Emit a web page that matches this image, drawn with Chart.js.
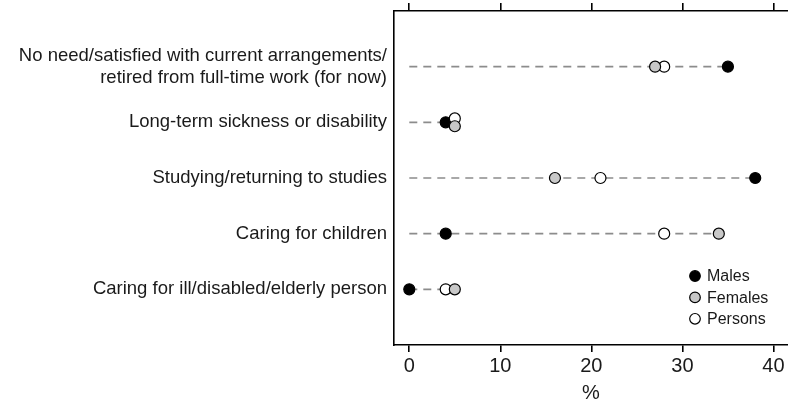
<!DOCTYPE html>
<html>
<head>
<meta charset="utf-8">
<script src="https://cdn.jsdelivr.net/npm/chart.js@4/dist/chart.umd.min.js"></script>
<style>
  html, body { margin: 0; padding: 0; background: #ffffff; }
  #wrap { width: 788px; height: 405px; }
</style>
</head>
<body>
<div id="wrap"><canvas id="c" width="788" height="405"></canvas></div>
<script>
// Reasons for not working full-time, by sex (%)
const categories = [
  ["No need/satisfied with current arrangements/", "retired from full-time work (for now)"],
  "Long-term sickness or disability",
  "Studying/returning to studies",
  "Caring for children",
  "Caring for ill/disabled/elderly person"
];
const males   = [35, 4, 38, 4, 0];
const females = [27, 5, 16, 34, 5];
const persons = [28, 5, 21, 28, 4];
const xTicks  = [0, 10, 20, 30, 40];
const seriesNames = ["Males", "Females", "Persons"];

const FONT = "'Liberation Sans', Arial, sans-serif";
const INK = '#1a1a1a';

// When females and persons coincide, nudge them apart vertically so both stay visible
function nudge(i, dir) {
  return females[i] === persons[i] ? dir * 0.07 : 0;
}

const pointStyle = {
  Males:   { bg: '#000000' },
  Females: { bg: '#c8c8c8' },
  Persons: { bg: '#ffffff' }
};

function dots(values, name, dir) {
  return {
    label: name,
    data: values.map((v, i) => ({ x: v, y: i + 1 + (dir ? nudge(i, dir) : 0) })),
    backgroundColor: pointStyle[name].bg,
    borderColor: '#000000',
    borderWidth: 1.2,
    pointRadius: 5.5,
    pointHoverRadius: 5.5,
    showLine: false
  };
}

// dashed guide from zero to the largest value in each row
const guides = categories.map((c, i) => ({
  label: 'guide' + i,
  data: [{ x: 0, y: i + 1 }, { x: Math.max(males[i], females[i], persons[i]), y: i + 1 }],
  showLine: true,
  borderColor: '#8c8c8c',
  borderWidth: 1.7,
  borderDash: [8, 6],
  pointRadius: 0,
  pointHoverRadius: 0,
  order: 10
}));

const datasets = [
  ...guides,
  Object.assign(dots(males, 'Males', 0), { order: 3 }),
  Object.assign(dots(persons, 'Persons', -1), { order: 2 }),
  Object.assign(dots(females, 'Females', 1), { order: 1 })
];

function fixTicks(scale) {
  scale.ticks = xTicks.map(v => ({ value: v }));
}

// keep the plot box edges where the axes say, without label overflow padding
function noPad(s) {
  s.paddingTop = 0; s.paddingBottom = 0; s.paddingLeft = 0; s.paddingRight = 0;
}

const legendPlugin = {
  id: 'dotLegend',
  afterDraw(chart) {
    const ctx = chart.ctx;
    const a = chart.chartArea;
    const cx = a.left + 301;
    const y0 = a.bottom - 69;
    ctx.save();
    ctx.font = '16px ' + FONT;
    ctx.textBaseline = 'middle';
    ctx.textAlign = 'left';
    seriesNames.forEach((name, k) => {
      const y = y0 + k * 21.4;
      ctx.beginPath();
      ctx.arc(cx, y, 5.3, 0, Math.PI * 2);
      ctx.fillStyle = pointStyle[name].bg;
      ctx.fill();
      ctx.lineWidth = 1.2;
      ctx.strokeStyle = '#000000';
      ctx.stroke();
      ctx.fillStyle = INK;
      ctx.fillText(name, cx + 12, y + 1);
    });
    ctx.restore();
  }
};

new Chart(document.getElementById('c'), {
  type: 'scatter',
  data: { datasets },
  options: {
    responsive: false,
    animation: false,
    devicePixelRatio: 1,
    layout: { padding: 0, autoPadding: false },
    plugins: { legend: { display: false }, tooltip: { enabled: false } },
    scales: {
      x: {
        type: 'linear',
        position: 'bottom',
        min: -1.68,
        max: 41.6,
        afterBuildTicks: fixTicks,
        afterFit(s) { s.height = 60; noPad(s); },
        grid: { drawOnChartArea: false, drawTicks: true, tickLength: 7, color: '#000000', lineWidth: 1.6 },
        border: { display: true, color: '#000000', width: 1.6 },
        ticks: { color: INK, font: { family: FONT, size: 20 }, padding: 2, maxRotation: 0 },
        title: { display: true, text: '%', color: INK, font: { family: FONT, size: 20 }, padding: 0 }
      },
      x2: {
        type: 'linear',
        position: 'top',
        min: -1.68,
        max: 41.6,
        afterBuildTicks: fixTicks,
        afterFit(s) { s.height = 11; noPad(s); },
        grid: { drawOnChartArea: false, drawTicks: true, tickLength: 8, color: '#000000', lineWidth: 1.6 },
        border: { display: true, color: '#000000', width: 1.6 },
        ticks: { display: false }
      },
      y: {
        type: 'linear',
        min: 0,
        max: 6,
        reverse: true,
        afterBuildTicks(s) { s.ticks = categories.map((c, i) => ({ value: i + 1 })); },
        afterFit(s) { s.width = 394; noPad(s); },
        grid: { drawOnChartArea: false, drawTicks: false },
        border: { display: true, color: '#000000', width: 1.6 },
        ticks: {
          color: INK,
          font: { family: FONT, size: 18.5, lineHeight: 1.2 },
          padding: 7,
          autoSkip: false,
          callback: (v) => categories[v - 1]
        }
      }
    }
  },
  plugins: [legendPlugin]
});
</script>
</body>
</html>
